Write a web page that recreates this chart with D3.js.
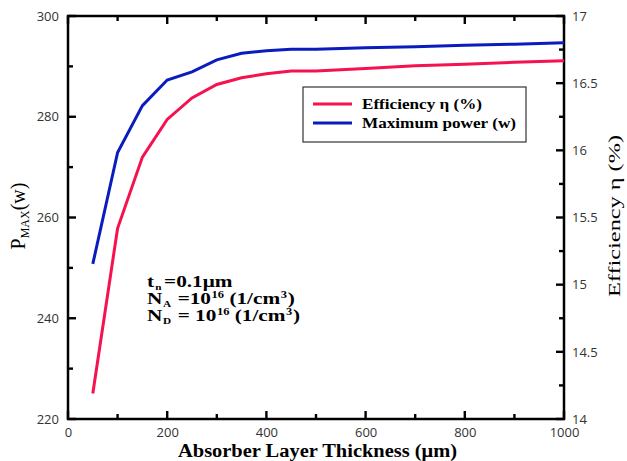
<!DOCTYPE html>
<html>
<head>
<meta charset="utf-8">
<script src="https://cdn.jsdelivr.net/npm/d3@7"></script>
<style>
body{margin:0;background:#fff;}
.tick text{font-family:"Open Sans",sans-serif;font-size:13px;fill:#333;}
.serif{font-family:"Liberation Serif","Times New Roman",serif;}
</style>
</head>
<body>
<svg></svg>
<script>
var thickness=[50,100,150,200,250,300,350,400,450,500,600,700,800,900,1000]
var power=[250.8,272.9,282.2,287.3,288.9,291.3,292.6,293.1,293.4,293.4,293.7,293.9,294.2,294.4,294.7]
var efficiency=[14.19,15.42,15.95,16.23,16.39,16.49,16.54,16.57,16.59,16.59,16.61,16.63,16.64,16.655,16.667]
var xTicks=[0,200,400,600,800,1000]
var leftTicks=[220,240,260,280,300]
var rightTicks=[14,14.5,15,15.5,16,16.5,17]

var width=627, height=461
var margins={top:16, bottom:42, left:68, right:63}

var svg=d3.select("svg")
    .attr("width",width)
    .attr("height",height)

var x=d3.scaleLinear().domain([0,1000]).range([margins.left,width-margins.right])
var yL=d3.scaleLinear().domain([220,300]).range([height-margins.bottom,margins.top])
var yR=d3.scaleLinear().domain([14,17]).range([height-margins.bottom,margins.top])

var plotB=height-margins.bottom, plotT=margins.top
var plotL=margins.left, plotR=width-margins.right

// tick labels through d3 axes (no tick lines)
svg.append("g").attr("transform","translate(0,"+plotB+")")
    .call(d3.axisBottom(x).tickValues(xTicks).tickSize(0).tickPadding(9).tickFormat(d3.format("d")))
    .call(function(g){g.select(".domain").remove()})
svg.append("g").attr("transform","translate("+plotL+",0)")
    .call(d3.axisLeft(yL).tickValues(leftTicks).tickSize(0).tickPadding(9))
    .call(function(g){g.select(".domain").remove()})
svg.append("g").attr("transform","translate("+plotR+",0)")
    .call(d3.axisRight(yR).tickValues(rightTicks).tickSize(0).tickPadding(8).tickFormat(d3.format("")))
    .call(function(g){g.select(".domain").remove()})

svg.append("rect")
    .attr("x",plotL).attr("y",plotT)
    .attr("width",plotR-plotL).attr("height",plotB-plotT)
    .attr("fill","none").attr("stroke","#000").attr("stroke-width",2.5)

// inward tick marks on all four sides
var tickLen=function(major){return major?8:5}
var xMinor=d3.range(0,1001,100)
var addTicks=function(data,x1,y1,x2,y2){
    svg.append("g").selectAll("line").data(data).enter().append("line")
        .attr("x1",x1).attr("y1",y1).attr("x2",x2).attr("y2",y2)
        .attr("stroke","#000").attr("stroke-width",2.4)
}
addTicks(xMinor,function(d){return x(d)},plotB,function(d){return x(d)},function(d){return plotB-tickLen(d%200==0)})
addTicks(xMinor,function(d){return x(d)},plotT,function(d){return x(d)},function(d){return plotT+tickLen(d%200==0)})
addTicks(d3.range(220,301,10),plotL,function(d){return yL(d)},function(d){return plotL+tickLen(d%20==0)},function(d){return yL(d)})
addTicks(d3.range(14,17.01,0.25),plotR,function(d){return yR(d)},function(d){return plotR-tickLen(d%0.5==0)},function(d){return yR(d)})

var red="#f5124f", blue="#0b1cbf"

var linePow=d3.line().x(function(d,i){return x(thickness[i])}).y(function(d){return yL(d)})
var lineEff=d3.line().x(function(d,i){return x(thickness[i])}).y(function(d){return yR(d)})

svg.append("path").datum(efficiency).attr("d",lineEff)
    .attr("fill","none").attr("stroke",red).attr("stroke-width",3)
svg.append("path").datum(power).attr("d",linePow)
    .attr("fill","none").attr("stroke",blue).attr("stroke-width",3)

// legend
var lg=svg.append("g")
lg.append("rect").attr("x",303).attr("y",87).attr("width",223).attr("height",55)
    .attr("fill","#fff").attr("stroke","#333").attr("stroke-width",1.2)
var items=[{name:"Efficiency \u03b7 (%)",color:red,len:120},{name:"Maximum power (w)",color:blue,len:154}]
items.forEach(function(it,i){
    var yy=104+i*19
    lg.append("line").attr("x1",313).attr("x2",352).attr("y1",yy).attr("y2",yy)
        .attr("stroke",it.color).attr("stroke-width",3)
    lg.append("text").attr("class","serif").attr("x",362).attr("y",yy+5)
        .attr("font-size",15).attr("font-weight","bold")
        .attr("textLength",it.len).attr("lengthAdjust","spacingAndGlyphs")
        .text(it.name)
})

// annotation, stretched sideways like the original
var ann=svg.append("g").attr("class","serif").attr("font-weight","bold").attr("font-size",17)
    .attr("transform","translate(147,0) scale(1.25,1)")
var t1=ann.append("text").attr("x",0).attr("y",287)
t1.append("tspan").text("t")
t1.append("tspan").attr("font-size",9).attr("dy",3).attr("dx",1).text("n")
t1.append("tspan").attr("dy",-3).attr("dx",2).text("=0.1\u03bcm")
var rows=[{sub:"A",eq:" =10",y:304},{sub:"D",eq:" = 10",y:321}]
rows.forEach(function(r){
    var t=ann.append("text").attr("x",0).attr("y",r.y)
    t.append("tspan").text("N")
    t.append("tspan").attr("font-size",9).attr("dy",3).attr("dx",0.5).text(r.sub)
    t.append("tspan").attr("dy",-3).attr("dx",1).text(r.eq)
    t.append("tspan").attr("font-size",10).attr("dy",-6).attr("dx",0.5).text("16")
    t.append("tspan").attr("dy",6).text(" (1/cm")
    t.append("tspan").attr("font-size",10).attr("dy",-6).attr("dx",0.5).text("3")
    t.append("tspan").attr("dy",6).attr("dx",0.5).text(")")
})

// axis titles
svg.append("text").attr("class","serif").attr("x",178).attr("y",457)
    .attr("font-size",18).attr("font-weight","bold")
    .attr("textLength",279).attr("lengthAdjust","spacingAndGlyphs")
    .text("Absorber Layer Thickness (\u03bcm)")

var lt=svg.append("text").attr("class","serif")
    .attr("transform","translate(25,216) rotate(-90)")
    .attr("text-anchor","middle").attr("font-size",20)
lt.append("tspan").text("P")
lt.append("tspan").attr("font-size",12).attr("dy",4).text("MAX")
lt.append("tspan").attr("dy",-4).text("(w)")

svg.append("text").attr("class","serif")
    .attr("transform","translate(620,297) rotate(-90)")
    .attr("font-size",16)
    .attr("textLength",162).attr("lengthAdjust","spacingAndGlyphs")
    .text("Efficiency \u03b7 (%)")
</script>
</body>
</html>
